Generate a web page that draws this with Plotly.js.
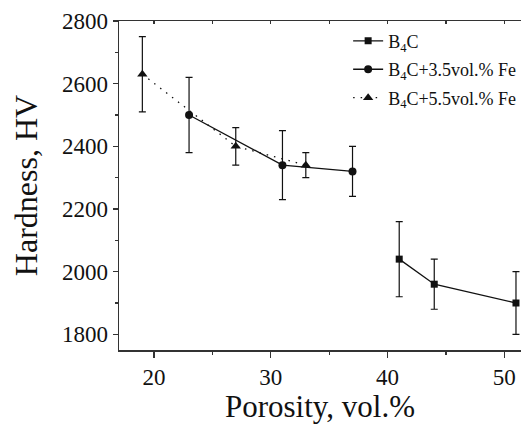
<!DOCTYPE html>
<html>
<head>
<meta charset="utf-8">
<script src="https://cdn.plot.ly/plotly-3.0.1.min.js"></script>
<style>html,body{margin:0;padding:0;background:#fff;}#chart{width:521px;height:424px;}</style>
</head>
<body>
<div id="chart"></div>
<script>
// Data
const seriesNames = ["B<sub>4</sub>C", "B<sub>4</sub>C+3.5vol.% Fe", "B<sub>4</sub>C+5.5vol.% Fe"];
const b4cX = [41, 44, 51];
const b4cY = [2040, 1960, 1900];
const b4cErr = [120, 80, 100];
const fe35X = [23, 31, 37];
const fe35Y = [2500, 2340, 2320];
const fe35Err = [120, 110, 80];
const fe55X = [19, 27, 33];
const fe55Y = [2630, 2400, 2340];
const fe55Err = [120, 60, 40];
const xTickVals = [20, 30, 40, 50];
const yTickVals = [1800, 2000, 2200, 2400, 2600, 2800];

const ink = '#111';
const FONT = 'Liberation Serif, Times New Roman, serif';

function errBar(arr) {
  return {type: 'data', array: arr, visible: true, color: ink, thickness: 1.2, width: 3.5};
}

const traces = [
  {x: b4cX, y: b4cY, name: seriesNames[0], legendgroup: 'a', type: 'scatter', mode: 'lines+markers',
   line: {color: ink, width: 1.3, dash: 'solid'}, marker: {symbol: 'square', size: 7, color: ink},
   error_y: errBar(b4cErr)},
  {x: fe35X, y: fe35Y, name: seriesNames[1], legendgroup: 'b', type: 'scatter', mode: 'lines+markers',
   line: {color: ink, width: 1.3, dash: 'solid'}, marker: {symbol: 'circle', size: 8, color: ink},
   error_y: errBar(fe35Err)},
  {x: fe55X, y: fe55Y, name: seriesNames[2], legendgroup: 'c', type: 'scatter', mode: 'lines+markers',
   line: {color: ink, width: 1.3, dash: '1.5px,6px'}, marker: {symbol: 'triangle-up', size: 9, color: ink},
   error_y: errBar(fe55Err)},
  // invisible trace to drive the top (mirrored) axis with inward ticks
  {x: [17, 51.43], y: [1750, 1750], xaxis: 'x2', yaxis: 'y', mode: 'markers', showlegend: false,
   hoverinfo: 'skip', marker: {opacity: 0}}
];

const layout = {
  width: 521, height: 424,
  margin: {l: 119, r: 0, t: 21, b: 74, autoexpand: false},
  paper_bgcolor: '#fff', plot_bgcolor: '#fff',
  font: {family: FONT, color: ink, size: 22},
  showlegend: true,
  legend: {x: 0.57, y: 0.995, xanchor: 'left', yanchor: 'top', bgcolor: 'rgba(0,0,0,0)',
           font: {family: FONT, size: 18, color: ink}, traceorder: 'grouped', tracegroupgap: 2,
           itemwidth: 30},
  xaxis: {
    range: [17, 51.43], tickvals: xTickVals, ticks: 'outside', ticklen: 6, tickwidth: 1.2, tickcolor: '#333',
    showline: true, linecolor: '#333', linewidth: 1.5, showgrid: false, zeroline: false,
    tickfont: {family: FONT, size: 23, color: ink},
    minor: {dtick: 5, ticks: 'outside', ticklen: 3, tickwidth: 1.2, tickcolor: '#333', showgrid: false},
    title: {text: 'Porosity, vol.%', font: {family: FONT, size: 31, color: ink}, standoff: 2}
  },
  xaxis2: {
    overlaying: 'x', side: 'top', range: [17, 51.43], dtick: 5, tick0: 0, ticks: 'inside', ticklen: 3,
    tickwidth: 1.2, tickcolor: '#333', showticklabels: false, showline: true, linecolor: '#333',
    linewidth: 1.5, showgrid: false, zeroline: false
  },
  yaxis: {
    range: [1750, 2800], tickvals: yTickVals, ticks: 'outside', ticklen: 5, tickwidth: 1.2, tickcolor: '#333',
    showline: true, linecolor: '#333', linewidth: 1.5, showgrid: false, zeroline: false,
    tickfont: {family: FONT, size: 23, color: ink},
    minor: {dtick: 100, tick0: 1700, ticks: 'outside', ticklen: 3, tickwidth: 1.2, tickcolor: '#333', showgrid: false},
    title: {text: 'Hardness, HV', font: {family: FONT, size: 32, color: ink}, standoff: 14}
  }
};

Plotly.newPlot('chart', traces, layout, {staticPlot: true, displayModeBar: false});
</script>
</body>
</html>
